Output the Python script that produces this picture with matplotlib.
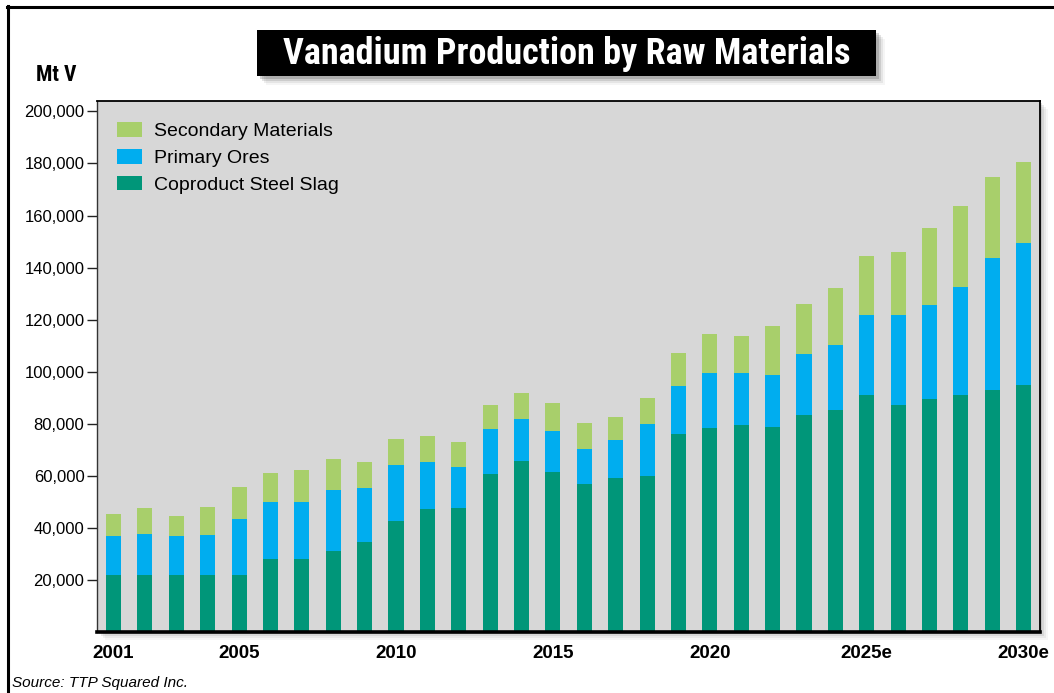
import numpy as np
import matplotlib
matplotlib.use("Agg")
import matplotlib.pyplot as plt
from matplotlib.patches import Rectangle
from matplotlib.lines import Line2D
from matplotlib.ticker import FuncFormatter
from matplotlib import font_manager

# ---- data (Mt V) ----
years = list(range(2001, 2031))
steel_slag = [22000, 22000, 22000, 22000, 22000, 28000, 28000, 31000, 34500, 42800,
              47200, 47600, 60800, 65800, 61400, 56900, 59300, 60000, 76100, 78300,
              79400, 78700, 83200, 85100, 91100, 87300, 89400, 91100, 93000, 94800]
primary_ores = [14900, 15700, 14900, 15300, 21600, 21900, 21800, 23500, 20800, 21200,
                18000, 15900, 17000, 16100, 15700, 13400, 14400, 19900, 18300, 21100,
                20000, 20100, 23600, 25100, 30800, 34600, 36300, 41500, 50600, 54500]
secondary = [8300, 9900, 7500, 10800, 12000, 11100, 12300, 12000, 9900, 10100,
             10000, 9600, 9500, 10100, 10900, 10000, 9000, 10000, 12800, 14900,
             14200, 18700, 19200, 21800, 22500, 24200, 29400, 30900, 31300, 31300]
series_names = ["Secondary Materials", "Primary Ores", "Coproduct Steel Slag"]
tick_years = [2001, 2005, 2010, 2015, 2020, 2025, 2030]
tick_labels = ["2001", "2005", "2010", "2015", "2020", "2025e", "2030e"]
y_ticks = [20000, 40000, 60000, 80000, 100000, 120000, 140000, 160000, 180000, 200000]

C_SLAG = "#009679"
C_PRIM = "#00adef"
C_SEC = "#a8cf6b"
PLOT_BG = "#d7d7d7"


def pick(*names):
    for n in names:
        try:
            font_manager.findfont(font_manager.FontProperties(family=n),
                                  fallback_to_default=False)
            return n
        except ValueError:
            continue
    return None


SANS = pick("Liberation Sans", "Arial", "DejaVu Sans") or "DejaVu Sans"
NARROW = pick("Liberation Sans Narrow", "Arial Narrow", "Roboto Condensed")
TITLE_FONT, TITLE_SIZE = (NARROW, 26) if NARROW else (SANS, 22)
LABEL_FONT, LABEL_SIZE = (NARROW, 15.5) if NARROW else (SANS, 13.5)

W, H = 1054, 693
fig = plt.figure(figsize=(W / 100, H / 100), dpi=100)
fig.patch.set_facecolor("white")


def fx(px):
    return px / W


def fy(py):
    return 1 - py / H


def drop_shadow(x0, y0, x1, y1, steps, color, z):
    """Soft offset shadow behind a pixel-space box."""
    for k, a in steps:
        fig.add_artist(Rectangle((fx(x0 + k), fy(y1 + k)), fx(x1 - x0), (y1 - y0) / H,
                                 transform=fig.transFigure, facecolor=color,
                                 edgecolor="none", alpha=a, zorder=z))


# outer frame (left and top edges)
fig.add_artist(Line2D([fx(8), fx(8)], [fy(6), 0], color="black", lw=2.2,
                      transform=fig.transFigure))
fig.add_artist(Line2D([fx(7), 1], [fy(7), fy(7)], color="black", lw=2.2,
                      transform=fig.transFigure))

# plot area
L, R, T, B = 97, 1040, 101, 632
drop_shadow(L, T, R, B, [(2, 0.16), (4, 0.12), (6, 0.08), (8, 0.05)], "#555555", 0)
ax = fig.add_axes([fx(L), fy(B), fx(R - L), (B - T) / H])
ax.set_facecolor(PLOT_BG)
ax.set_zorder(2)

x = np.arange(len(years))
slag = np.array(steel_slag)
prim = np.array(primary_ores)
sec = np.array(secondary)
bw = 0.48
b1 = ax.bar(x, slag, width=bw, color=C_SLAG, label=series_names[2])
b2 = ax.bar(x, prim, width=bw, bottom=slag, color=C_PRIM, label=series_names[1])
b3 = ax.bar(x, sec, width=bw, bottom=slag + prim, color=C_SEC, label=series_names[0])

ax.set_xlim(-0.526, len(years) - 1 + 0.52)
ax.set_ylim(0, 204000)

ax.set_yticks(y_ticks)
ax.yaxis.set_major_formatter(FuncFormatter(lambda v, p: f"{int(v):,}"))
ax.tick_params(axis="y", direction="out", length=7, width=1, color="#222222",
               pad=2, labelsize=12)
for t in ax.get_yticklabels():
    t.set_fontfamily(SANS)

ax.set_xticks([years.index(yv) for yv in tick_years])
ax.set_xticklabels(tick_labels, fontsize=13.5, fontweight="bold", fontfamily=SANS)
ax.tick_params(axis="x", length=0, pad=9)

for side in ["top", "right"]:
    ax.spines[side].set_linewidth(1.3)
    ax.spines[side].set_color("black")
ax.spines["left"].set_linewidth(1.0)
ax.spines["left"].set_color("#333333")
ax.spines["bottom"].set_linewidth(2.6)
ax.spines["bottom"].set_color("black")

ax.legend(handles=[b3, b2, b1], labels=series_names, loc="upper left",
          bbox_to_anchor=(0.0215, 0.960), frameon=False, borderaxespad=0,
          borderpad=0, handlelength=1.29, handleheight=0.77,
          handletextpad=0.6, labelspacing=0.45,
          prop={"family": SANS, "size": 14})

# title box with shadow
bx0, by0, bx1, by1 = 257, 30, 876, 76
drop_shadow(bx0, by0, bx1, by1, [(3, 0.22), (5, 0.15), (7, 0.09), (9, 0.05)], "#444444", 1)
fig.add_artist(Rectangle((fx(bx0), fy(by1)), fx(bx1 - bx0), (by1 - by0) / H,
                         transform=fig.transFigure, facecolor="black",
                         edgecolor="none", zorder=3))
fig.text(fx((bx0 + bx1) / 2), fy((by0 + by1) / 2 + 1),
         "Vanadium Production by Raw Materials", color="white",
         fontsize=TITLE_SIZE, fontweight="bold", fontfamily=TITLE_FONT,
         ha="center", va="center", zorder=4)

fig.text(fx(56), fy(75), "Mt V", fontsize=LABEL_SIZE, fontweight="bold",
         fontfamily=LABEL_FONT, ha="center", va="center")
fig.text(fx(12), fy(683), "Source: TTP Squared Inc.", fontsize=11,
         fontstyle="italic", fontfamily=SANS, ha="left", va="center")

fig.savefig("out.png", dpi=100)
